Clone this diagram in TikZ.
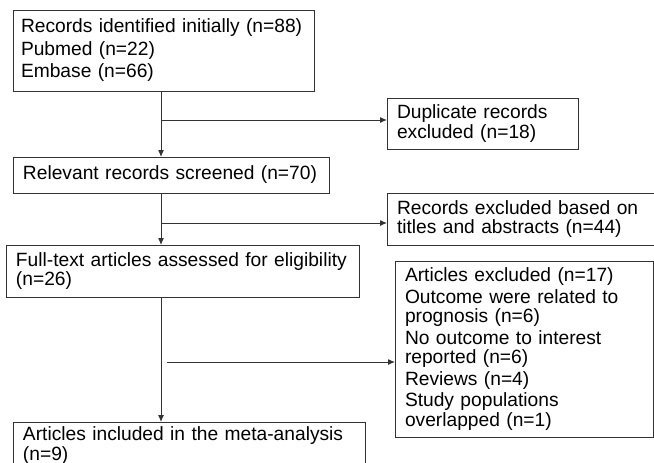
\documentclass[tikz,border=0pt]{standalone}
\usepackage{fontspec}
\setmainfont{Liberation Sans}
\usetikzlibrary{arrows.meta,positioning}
\tikzset{%
	block/.style    = {draw=black!80, line width=1pt, rectangle, anchor=north west, align=left, outer sep=0pt, inner xsep=10pt, inner ysep=0pt, font=\fontsize{19.2}{19.5}\selectfont},
	waypoint/.style = {coordinate}, % branch point
	arrow/.style    = {draw=black!80, line width=1pt, -{Latex[length=7pt,width=6pt]}},
}

\begin{document}
\begin{tikzpicture}[x=1pt,y=-1pt]
	\useasboundingbox (0,0) rectangle (654,463);
	\node [block,inner xsep=8pt,text width=285pt,minimum height=81pt] (rec) at (13,10) {Records identified initially (n=88)\\[3pt]Pubmed (n=22)\\[3pt]Embase (n=66)};
	\node [block,text width=171pt,minimum height=51pt] (dup) at (387,98) {Duplicate records\\excluded (n=18)};
	\node [block,text width=296pt,minimum height=36pt] (scr) at (13,157) {Relevant records screened (n=70)};
	\node [block,text width=253pt,minimum height=52pt] (tit) at (387,193) {Records excluded based on\\titles and abstracts (n=44)};
	\node [block,text width=333pt,minimum height=52pt] (full) at (6,245) {Full-text articles assessed for eligibility\\(n=26)};
	\node [block,text width=238pt,minimum height=176pt] (excl) at (395,261) {Articles excluded (n=17)\\[2pt]Outcome were related to\\prognosis (n=6)\\[2pt]No outcome to interest\\reported (n=6)\\[2pt]Reviews (n=4)\\[2pt]Study populations\\overlapped (n=1)};
	\node [block,text width=332pt,minimum height=47pt] (incl) at (13,422) {Articles included in the meta-analysis\\(n=9)};

	\node [waypoint] (spine) at (161,0) {};
	\node [waypoint] (b1) at (161,120) {};
	\node [waypoint] (b2) at (161,223) {};
	\node [waypoint] (b3) at (167,362) {};

	\draw [arrow] (rec.south -| spine) -- (scr.north -| spine);
	\draw [arrow] (scr.south -| spine) -- (full.north -| spine);
	\draw [arrow] (full.south -| spine) -- (incl.north -| spine);
	\draw [arrow] (b1) -- (b1 -| dup.west);
	\draw [arrow] (b2) -- (b2 -| tit.west);
	\draw [arrow] (b3) -- (b3 -| excl.west);
\end{tikzpicture}
\end{document}
